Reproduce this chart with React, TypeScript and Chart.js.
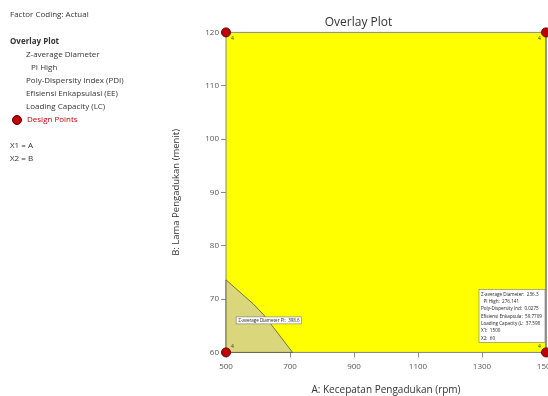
import React, { useEffect, useRef } from "react";
import { Chart, registerables } from "chart.js";

Chart.register(...registerables);

// ---- data ----
const xLimits = [500, 1500];
const yLimits = [60, 120];
const xTickStep = 200;
const yTickStep = 10;
const designA = [500, 500, 1500, 1500];
const designB = [60, 120, 60, 120];
const designCount = ["4", "4", "4", "4"];
const boundaryA = [500, 585, 617, 648, 708];
const boundaryB = [73.6, 69.1, 67.1, 64.7, 60];
const contourLabel = "Z-average Diameter PI:  398.6";
const contourLabelAt = [634, 66];
const flagAt = [1500, 60];
const flagLines = [
  "Z-average Diameter:  236.3",
  "  PI High:  276.141",
  "Poly-Dispersity Ind:  0.0275",
  "Efisiensi Enkapsula:  59.7709",
  "Loading Capacity (L:  37.598",
  "X1:  1500",
  "X2:  60",
];
const panelLines: { text: string; x: number; y: number; bold?: boolean; red?: boolean }[] = [
  { text: "Factor Coding: Actual", x: 10, y: 15 },
  { text: "Overlay Plot", x: 10, y: 42, bold: true },
  { text: "Z-average Diameter", x: 26, y: 55 },
  { text: "PI High", x: 31, y: 68 },
  { text: "Poly-Dispersity Index (PDI)", x: 26, y: 81 },
  { text: "Efisiensi Enkapsulasi (EE)", x: 26, y: 94 },
  { text: "Loading Capacity (LC)", x: 26, y: 107 },
  { text: "Design Points", x: 27, y: 120, red: true },
  { text: "X1 = A", x: 10, y: 146 },
  { text: "X2 = B", x: 10, y: 159 },
];

const FONT = "'Open Sans', 'Noto Sans', sans-serif";

const overlayPlugin = {
  id: "overlayExtras",
  afterDraw(chart: any) {
    const ctx = chart.ctx;
    const xs = chart.scales.x;
    const ys = chart.scales.y;
    ctx.save();
    // left panel
    ctx.textBaseline = "middle";
    ctx.textAlign = "left";
    for (const l of panelLines) {
      ctx.font = `${l.bold ? "bold " : ""}8px ${FONT}`;
      ctx.fillStyle = l.red ? "#c00000" : "#333333";
      ctx.fillText(l.text, l.x, l.y);
    }
    // legend marker for design points
    ctx.beginPath();
    ctx.arc(17, 120, 4.5, 0, Math.PI * 2);
    ctx.fillStyle = "#c00000";
    ctx.fill();
    ctx.strokeStyle = "#600000";
    ctx.lineWidth = 1;
    ctx.stroke();

    // design point counts
    ctx.font = `5px ${FONT}`;
    ctx.fillStyle = "#333";
    const cx = (xLimits[0] + xLimits[1]) / 2;
    const cy = (yLimits[0] + yLimits[1]) / 2;
    designA.forEach((a, i) => {
      const px = xs.getPixelForValue(a);
      const py = ys.getPixelForValue(designB[i]);
      const dx = a < cx ? 5 : -8;
      const dy = designB[i] < cy ? -6 : 6;
      ctx.textAlign = "left";
      ctx.fillText(designCount[i], px + dx, py + dy);
    });

    // contour label
    {
      const px = xs.getPixelForValue(contourLabelAt[0]);
      const py = ys.getPixelForValue(contourLabelAt[1]);
      ctx.font = `4.5px ${FONT}`;
      const w = ctx.measureText(contourLabel).width + 4;
      const h = 7;
      ctx.fillStyle = "#ffffff";
      ctx.fillRect(px - w / 2, py - h / 2, w, h);
      ctx.strokeStyle = "#777";
      ctx.lineWidth = 0.6;
      ctx.strokeRect(px - w / 2, py - h / 2, w, h);
      ctx.fillStyle = "#222";
      ctx.textAlign = "left";
      ctx.fillText(contourLabel, px - w / 2 + 2, py + 0.3);
    }

    // flag box
    {
      const px = xs.getPixelForValue(flagAt[0]);
      const py = ys.getPixelForValue(flagAt[1]);
      const w = 66;
      const h = 53;
      const left = px - 1 - w;
      const top = py - 10 - h;
      ctx.fillStyle = "#ffffff";
      ctx.fillRect(left, top, w, h);
      ctx.strokeStyle = "#777";
      ctx.lineWidth = 0.6;
      ctx.strokeRect(left, top, w, h);
      ctx.font = `4.6px ${FONT}`;
      ctx.fillStyle = "#222";
      ctx.textAlign = "left";
      flagLines.forEach((t, i) => {
        ctx.fillText(t, left + 2, top + 5 + i * 7.3);
      });
    }
    ctx.restore();
  },
};

export default function App() {
  const ref = useRef<HTMLCanvasElement>(null);
  useEffect(() => {
    if (!ref.current) return;
    const yellow = [
      { x: xLimits[0], y: yLimits[0] },
      { x: xLimits[0], y: yLimits[1] },
      { x: xLimits[1], y: yLimits[1] },
      { x: xLimits[1], y: yLimits[0] },
      { x: xLimits[0], y: yLimits[0] },
    ];
    const gray = boundaryA.map((a, i) => ({ x: a, y: boundaryB[i] }));
    gray.push({ x: xLimits[0], y: yLimits[0] });
    gray.unshift({ x: xLimits[0], y: yLimits[0] });
    const chart = new Chart(ref.current, {
      type: "scatter",
      data: {
        datasets: [
          {
            label: "Design Points",
            data: designA.map((a, i) => ({ x: a, y: designB[i] })),
            pointRadius: 4.5,
            pointBackgroundColor: "#c00000",
            pointBorderColor: "#600000",
            pointBorderWidth: 1,
            showLine: false,
            order: 0,
          } as any,
          {
            label: "Gray",
            data: gray,
            showLine: true,
            fill: "shape",
            backgroundColor: "#dad67c",
            borderColor: "#555533",
            borderWidth: 0.8,
            pointRadius: 0,
            tension: 0,
            order: 1,
          } as any,
          {
            label: "Yellow",
            data: yellow,
            showLine: true,
            fill: "shape",
            backgroundColor: "#ffff00",
            borderColor: "#888888",
            borderWidth: 1,
            pointRadius: 0,
            tension: 0,
            order: 2,
          } as any,
        ],
      },
      options: {
        animation: false,
        responsive: false,
        clip: false as any,
        layout: { padding: { left: 171, top: 6, right: 54, bottom: 0 } },
        plugins: {
          legend: { display: false },
          tooltip: { enabled: false },
          title: {
            display: true,
            text: "Overlay Plot",
            color: "#333",
            font: { family: FONT, size: 12, weight: "normal" as any },
            padding: { top: 9, bottom: 3 },
          },
        },
        scales: {
          x: {
            type: "linear",
            min: xLimits[0],
            max: xLimits[1],
            ticks: {
              stepSize: xTickStep,
              color: "#555",
              font: { family: FONT, size: 8 },
              padding: 5,
              maxRotation: 0,
              callback: (v: any) => String(v),
            },
            grid: { display: true, drawOnChartArea: false, drawTicks: true, tickLength: 5, color: "#888" },
            border: { display: true, color: "#888" },
            title: {
              display: true,
              text: "A: Kecepatan Pengadukan (rpm)",
              color: "#333",
              font: { family: FONT, size: 10 },
              padding: { top: 7, bottom: 0 },
            },
          },
          y: {
            type: "linear",
            min: yLimits[0],
            max: yLimits[1],
            afterFit(scale: any) {
              scale.width = 55;
            },
            ticks: {
              stepSize: yTickStep,
              color: "#555",
              font: { family: FONT, size: 8 },
              padding: 2,
              callback: (v: any) => String(v),
            },
            grid: { display: true, drawOnChartArea: false, drawTicks: true, tickLength: 5, color: "#888" },
            border: { display: true, color: "#888" },
            title: {
              display: true,
              text: "B: Lama Pengadukan (menit)",
              color: "#333",
              font: { family: FONT, size: 9.5 },
              padding: { top: 0, bottom: 0 },
            },
          },
        },
      },
      plugins: [overlayPlugin],
    });
    return () => chart.destroy();
  }, []);
  return (
    <div style={{ position: "fixed", left: 0, top: 0, width: 548, height: 396, overflow: "hidden", background: "#fff" }}>
      <canvas ref={ref} width={600} height={396} style={{ width: 600, height: 396, display: "block" }} />
    </div>
  );
}
